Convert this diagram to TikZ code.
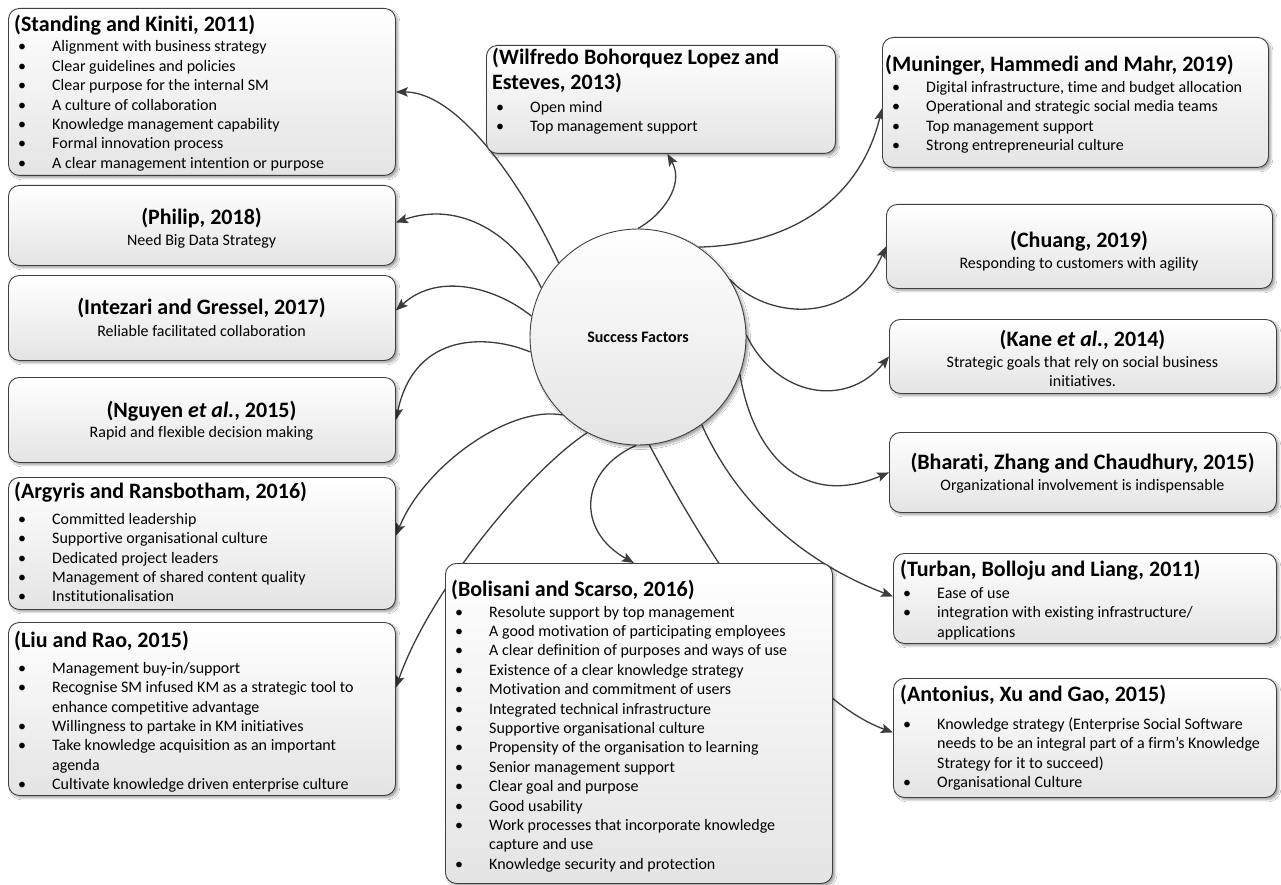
\documentclass[tikz,border=0pt]{standalone}
\usepackage{fontspec}
\setmainfont{Carlito}[Ligatures=NoCommon]
\usetikzlibrary{arrows.meta,shadows.blur}
\pgfdeclarelayer{background}
\pgfsetlayers{background,main}
\definecolor{edge}{HTML}{3F3F3F}
\definecolor{linkc}{HTML}{3C3C3C}
\definecolor{shadebot}{HTML}{E4E4E4}
% bullet line and continuation line of a list
\newcommand{\bitem}[1]{\makebox[34pt][l]{\textbullet}#1}
\newcommand{\bcont}[1]{\makebox[34pt][l]{}#1}
% rounded card from (x0,y0) to (x1,y1)
\newcommand{\card}[5]{\node[card, minimum width={#4-#2}, minimum height={#5-#3}] (#1) at (#2,#3) {};}
\tikzset{
  card/.style={draw=edge, line width=0.9pt, rounded corners=11pt,
    top color=white, bottom color=shadebot, inner sep=0pt, anchor=north west,
    blur shadow={shadow xshift=2.5pt, shadow yshift=-2.5pt, shadow blur steps=6, shadow opacity=35}},
  hub/.style={circle, draw=edge, line width=0.9pt, top color=white, bottom color=shadebot,
    inner sep=0pt, font=\fontsize{16}{19}\selectfont\bfseries,
    blur shadow={shadow xshift=2.5pt, shadow yshift=-2.5pt, shadow blur steps=6, shadow opacity=35}},
  head/.style={font=\fontsize{22}{25}\selectfont\bfseries, inner sep=0pt},
  lines/.style={font=\fontsize{16}{19.4}\selectfont, align=left, inner sep=0pt, anchor=north west},
  mid/.style={font=\fontsize{16}{19.4}\selectfont, align=center, inner sep=0pt},
  link/.style={draw=linkc, line width=1.3pt, -{Stealth[length=12pt,width=9.5pt,inset=2.5pt]}},
}
\begin{document}
\begin{tikzpicture}[x=1pt,y=-1pt]
\useasboundingbox (0,0) rectangle (1281,885);

% central hub
\node[hub, minimum size=216pt] (sf) at (638,337) {Success Factors};

% left column
\card{stand}{8}{8}{395}{175}
\node[head, anchor=west] (stand-h) at (14,25) {(Standing and Kiniti, 2011)};
\node[lines] (stand-l) at (18,38.8) {\rule{0pt}{13pt}\bitem{Alignment with business strategy}\\
  \bitem{Clear guidelines and policies}\\
  \bitem{Clear purpose for the internal SM}\\
  \bitem{A culture of collaboration}\\
  \bitem{Knowledge management capability}\\
  \bitem{Formal innovation process}\\
  \bitem{A clear management intention or purpose}};

\card{phil}{8}{185}{395}{265}
\node[head] (phil-h) at (201.5,218) {(Philip, 2018)};
\node[mid] (phil-s) at (201.5,241) {Need Big Data Strategy};

\card{intz}{8}{275}{395}{360}
\node[head] (intz-h) at (201.5,308) {(Intezari and Gressel, 2017)};
\node[mid] (intz-s) at (201.5,331) {Reliable facilitated collaboration};

\card{nguy}{8}{377}{395}{462}
\node[head] (nguy-h) at (201.5,411) {(Nguyen \textit{et al.}, 2015)};
\node[mid] (nguy-s) at (201.5,433) {Rapid and flexible decision making};

\card{argy}{8}{477}{395}{609}
\node[head, anchor=west] (argy-h) at (14,492) {(Argyris and Ransbotham, 2016)};
\node[lines] (argy-l) at (18,511.1) {\rule{0pt}{13pt}\bitem{Committed leadership}\\
  \bitem{Supportive organisational culture}\\
  \bitem{Dedicated project leaders}\\
  \bitem{Management of shared content quality}\\
  \bitem{Institutionalisation}};

\card{liu}{8}{622}{395}{795}
\node[head, anchor=west] (liu-h) at (14,641) {(Liu and Rao, 2015)};
\node[lines] (liu-l) at (18,660.1) {\rule{0pt}{13pt}\bitem{Management buy-in/support}\\
  \bitem{Recognise SM infused KM as a strategic tool to}\\
  \bcont{enhance competitive advantage}\\
  \bitem{Willingness to partake in KM initiatives}\\
  \bitem{Take knowledge acquisition as an important}\\
  \bcont{agenda}\\
  \bitem{Cultivate knowledge driven enterprise culture}};

% top middle
\card{wilf}{486}{45}{835}{153}
\node[head, align=left, anchor=north west] (wilf-h) at (492,47) {\rule{0pt}{17pt}(Wilfredo Bohorquez Lopez and\\ Esteves, 2013)};
\node[lines] (wilf-l) at (496,99.1) {\rule{0pt}{13pt}\bitem{Open mind}\\
  \bitem{Top management support}};

% bottom middle
\card{bol}{445}{563}{832}{883}
\node[head, anchor=west] (bol-h) at (451,590) {(Bolisani and Scarso, 2016)};
\node[lines] (bol-l) at (455,603.8) {\rule{0pt}{13pt}\bitem{Resolute support by top management}\\
  \bitem{A good motivation of participating employees}\\
  \bitem{A clear definition of purposes and ways of use}\\
  \bitem{Existence of a clear knowledge strategy}\\
  \bitem{Motivation and commitment of users}\\
  \bitem{Integrated technical infrastructure}\\
  \bitem{Supportive organisational culture}\\
  \bitem{Propensity of the organisation to learning}\\
  \bitem{Senior management support}\\
  \bitem{Clear goal and purpose}\\
  \bitem{Good usability}\\
  \bitem{Work processes that incorporate knowledge}\\
  \bcont{capture and use}\\
  \bitem{Knowledge security and protection}};

% right column
\card{mun}{882}{37}{1268}{167}
\node[head, anchor=west] (mun-h) at (885,65) {(Muninger, Hammedi and Mahr, 2019)};
\node[lines] (mun-l) at (892,79.4) {\rule{0pt}{13pt}\bitem{Digital infrastructure, time and budget allocation}\\
  \bitem{Operational and strategic social media teams}\\
  \bitem{Top management support}\\
  \bitem{Strong entrepreneurial culture}};

\card{chu}{886}{204}{1272}{288}
\node[head] (chu-h) at (1079,241) {(Chuang, 2019)};
\node[mid] (chu-s) at (1079,264) {Responding to customers with agility};

\card{kane}{889}{319}{1276}{393}
\node[head] (kane-h) at (1082.5,340) {(Kane \textit{et al.}, 2014)};
\node[mid, anchor=north] (kane-s) at (1082.5,354.1) {\rule{0pt}{13pt}Strategic goals that rely on social business\\ initiatives.};

\card{bhar}{889}{432}{1276}{512}
\node[head] (bhar-h) at (1082.5,463) {(Bharati, Zhang and Chaudhury, 2015)};
\node[mid] (bhar-s) at (1082.5,486) {Organizational involvement is indispensable};

\card{turb}{893}{553}{1276}{643}
\node[head, anchor=west] (turb-h) at (900,570) {(Turban, Bolloju and Liang, 2011)};
\node[lines] (turb-l) at (903,585.1) {\rule{0pt}{13pt}\bitem{Ease of use}\\
  \bitem{integration with existing infrastructure/}\\
  \bcont{applications}};

\card{anto}{893}{678}{1276}{797}
\node[head, anchor=west] (anto-h) at (900,695) {(Antonius, Xu and Gao, 2015)};
\node[lines] (anto-l) at (903,716.1) {\rule{0pt}{13pt}\bitem{Knowledge strategy (Enterprise Social Software}\\
  \bcont{needs to be an integral part of a firm’s Knowledge}\\
  \bcont{Strategy for it to succeed)}\\
  \bitem{Organisational Culture}};

% connectors, kept beneath the cards
\begin{pgfonlayer}{background}
\fill[white] (0,0) rectangle (1281,885);
\draw[link] (sf.137.6) .. controls (525,190) and (460,92) .. (stand.east);
\draw[link] (sf.153) .. controls (515,235) and (460,200) .. ([yshift=3pt]phil.east);
\draw[link] (sf.169.3) .. controls (500,290) and (440,270) .. ([yshift=7.5pt]intz.east);
\draw[link] (sf.188.4) .. controls (490,335) and (415,330) .. (nguy.east);
\draw[link] (sf.226.8) .. controls (510,405) and (425,465) .. ([yshift=8pt]argy.east);
\draw[link] (sf.242.7) .. controls (530,470) and (430,590) .. ([yshift=21.5pt]liu.east);
\draw[link] (sf.269.5) .. controls (580,470) and (575,530) .. ([xshift=-5pt]bol.north);
\draw[link] (sf.276.3) .. controls (693,527) and (790,695) .. ([yshift=5.5pt]anto.west);
\draw[link] (sf.306.4) .. controls (740,510) and (810,565) .. ([yshift=2pt]turb.west);
\draw[link] (sf.340.6) .. controls (752,450) and (800,510) .. (bhar.west);
\draw[link] (sf.1) .. controls (775,395) and (845,410) .. (kane.west);
\draw[link] (sf.32.7) .. controls (765,318) and (850,328) .. (chu.west);
\draw[link] (sf.56.3) .. controls (790,245) and (860,200) .. ([yshift=-6pt]mun.west);
\draw[link] (sf.90.5) .. controls (662,215) and (685,185) .. ([xshift=6.5pt]wilf.south);
\end{pgfonlayer}
\end{tikzpicture}
\end{document}
